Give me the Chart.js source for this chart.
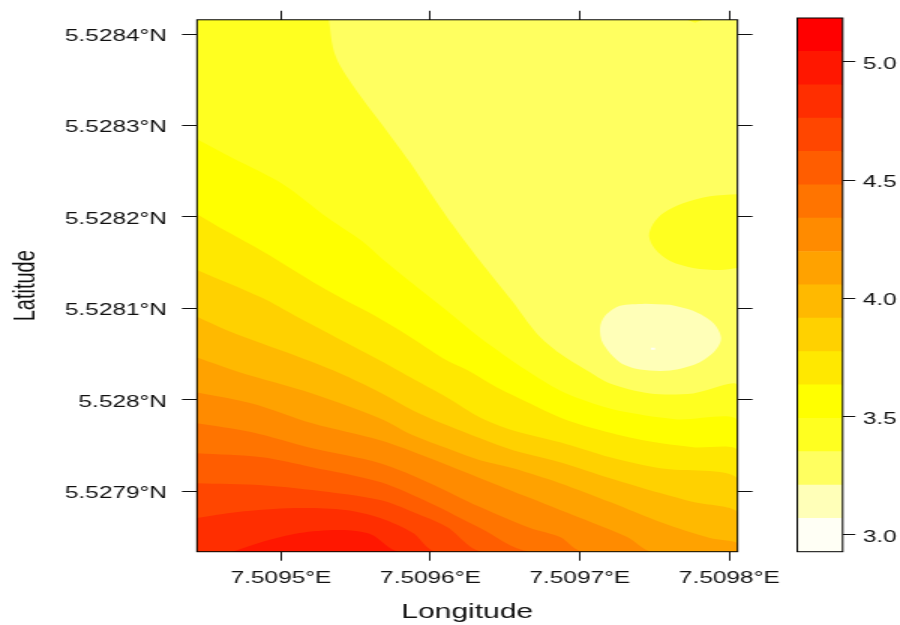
<!DOCTYPE html>
<html>
<head>
<meta charset="utf-8">
<title>Latitude / Longitude</title>
<script src="https://cdn.jsdelivr.net/npm/chart.js@4/dist/chart.umd.js"></script>
<style>
  html, body { margin: 0; background: #fff; overflow: hidden; }
  /* the original figure is stretched sideways, so both canvases are too */
  canvas { position: absolute; top: 0; transform: scaleX(1.5); transform-origin: 0 0; }
  #map { left: 0; }
  #key { left: 780px; }
</style>
</head>
<body>
<canvas id="map" width="600" height="625"></canvas>
<canvas id="key" width="80" height="625"></canvas>
<script>
// plot limits
const lonMin = 7.5094438, lonMax = 7.5098055;
const latMin = 5.5278338, latMax = 5.5284156;

const lonTicks  = [7.5095, 7.5096, 7.5097, 7.5098];
const lonLabels = ['7.5095°E', '7.5096°E', '7.5097°E', '7.5098°E'];
const latTicks  = [5.5279, 5.528, 5.5281, 5.5282, 5.5283, 5.5284];
const latLabels = ['5.5279°N', '5.528°N', '5.5281°N', '5.5282°N', '5.5283°N', '5.5284°N'];

// colour key, bottom to top
const keyTicks  = [3, 3.5, 4, 4.5, 5];
const keyLabels = ['3.0', '3.5', '4.0', '4.5', '5.0'];
const levels = [2.9294, 3.0704, 3.2113, 3.3523, 3.4932, 3.6342, 3.7752, 3.9161, 4.0571, 4.198, 4.339, 4.48, 4.6209, 4.7619, 4.9028, 5.0438, 5.1847];
const bandColors = ['#FFFFF5', '#FFFFB8', '#FFFF60', '#FFFF20', '#FFFF00', '#FFE800', '#FFD100', '#FFB900', '#FFA200', '#FF8B00', '#FF7400', '#FF5D00', '#FF4600', '#FF2E00', '#FF1700', '#FF0000'];

// contour lines, low values first
const c1Lon = [7.5095321, 7.5095348, 7.5095395, 7.5095529, 7.5095696, 7.5095863, 7.5095997, 7.5096145, 7.5096332, 7.5096546, 7.5096713, 7.5096867, 7.5097048, 7.5097202, 7.509747, 7.5097758, 7.5098055];
const c1Lat = [5.5284156, 5.5283851, 5.5283655, 5.5283328, 5.5282968, 5.5282597, 5.528227, 5.5281922, 5.5281518, 5.5281082, 5.5280723, 5.5280505, 5.5280319, 5.5280178, 5.5280069, 5.5280069, 5.5280156];
const c2Lon = [7.5094438, 7.5094679, 7.5095013, 7.5095315, 7.5095542, 7.5095663, 7.5095883, 7.5096111, 7.5096332, 7.5096646, 7.5096867, 7.5097088, 7.5097316, 7.509765, 7.5098055];
const c2Lat = [5.5282848, 5.5282641, 5.5282358, 5.5281987, 5.5281736, 5.5281562, 5.5281268, 5.5280973, 5.5280679, 5.5280319, 5.5280101, 5.527996, 5.5279862, 5.5279785, 5.5279774];
const c3Lon = [7.5094438, 7.5094645, 7.5094873, 7.5095315, 7.5095663, 7.5095883, 7.5096111, 7.5096252, 7.5096446, 7.5096667, 7.5096867, 7.5097088, 7.5097423, 7.5097758, 7.5098055];
const c3Lat = [5.528203, 5.5281834, 5.5281627, 5.5281191, 5.5280886, 5.5280668, 5.5280428, 5.5280319, 5.5280134, 5.527996, 5.5279807, 5.5279687, 5.5279556, 5.527948, 5.5279447];
const c4Lon = [7.5094438, 7.5094873, 7.5095094, 7.5095663, 7.5095843, 7.5096111, 7.5096332, 7.5096553, 7.5096867, 7.5097202, 7.5097537, 7.5098055];
const c4Lat = [5.528142, 5.5281115, 5.5280919, 5.5280428, 5.5280265, 5.5280025, 5.5279807, 5.5279665, 5.5279535, 5.5279371, 5.5279251, 5.5279142];
const c5Lon = [7.5094438, 7.5094645, 7.5094873, 7.5095094, 7.5095382, 7.5095663, 7.5095883, 7.5096111, 7.5096332, 7.5096553, 7.5096867, 7.5097202, 7.5097537, 7.5097758, 7.5098055];
const c5Lat = [5.5280908, 5.5280755, 5.5280614, 5.5280483, 5.5280298, 5.528008, 5.5279883, 5.527972, 5.5279578, 5.5279447, 5.5279317, 5.5279142, 5.5278979, 5.5278881, 5.5278772];
const c6Lon = [7.5094438, 7.5094726, 7.5095208, 7.5095663, 7.5095883, 7.5096111, 7.5096332, 7.5096553, 7.5096867, 7.5097202, 7.5097537, 7.5097871, 7.5098055];
const c6Lat = [5.5280461, 5.5280298, 5.5280069, 5.5279796, 5.5279611, 5.5279469, 5.5279339, 5.5279251, 5.5279088, 5.5278881, 5.5278663, 5.5278488, 5.5278434];
const c7Lon = [7.5094438, 7.5094806, 7.5095208, 7.5095663, 7.5095997, 7.5096332, 7.5096667, 7.5096867, 7.5097088, 7.5097316, 7.5097483];
const c7Lat = [5.528008, 5.527996, 5.5279742, 5.5279556, 5.527936, 5.5279142, 5.5278924, 5.5278794, 5.5278652, 5.5278499, 5.5278338];
const c8Lon = [7.5094438, 7.5094806, 7.5095208, 7.5095663, 7.5095997, 7.5096332, 7.5096667, 7.5096867, 7.5097021];
const c8Lat = [5.5279742, 5.5279644, 5.5279469, 5.5279306, 5.5279088, 5.5278826, 5.5278597, 5.5278499, 5.5278338];
const c9Lon = [7.5094438, 7.5094873, 7.5095208, 7.5095663, 7.5095997, 7.5096332, 7.5096667];
const c9Lat = [5.5279415, 5.5279371, 5.5279262, 5.5279099, 5.527887, 5.5278597, 5.5278338];
const c10Lon = [7.5094438, 7.5094873, 7.5095208, 7.5095663, 7.5095883, 7.5096111, 7.5096352];
const c10Lat = [5.5279088, 5.5279066, 5.5279012, 5.5278903, 5.5278772, 5.5278608, 5.5278338];
const c11Lon = [7.5094438, 7.5094712, 7.5095094, 7.5095428, 7.5095663, 7.5095883, 7.5096044];
const c11Lat = [5.5278706, 5.5278772, 5.5278815, 5.5278794, 5.5278706, 5.5278543, 5.5278338];
const c12Lon = [7.5094679, 7.5094873, 7.5095127, 7.5095395, 7.5095596, 7.5095797];
const c12Lat = [5.5278338, 5.5278445, 5.5278543, 5.5278576, 5.5278532, 5.5278338];

// closed patches on the right side of the map
const rightLon = [7.5098055, 7.5097871, 7.5097691, 7.5097557, 7.509749, 7.5097463, 7.5097503, 7.5097604, 7.5097758, 7.5097938, 7.5098055];
const rightLat = [5.5282248, 5.5282227, 5.528215, 5.5282041, 5.5281922, 5.5281791, 5.5281649, 5.5281518, 5.5281442, 5.528142, 5.5281442];
const topLon = [7.5097717, 7.5097771, 7.5097824];
const topLat = [5.5284156, 5.5284123, 5.5284156];
const paleLon = [7.5097436, 7.5097269, 7.5097169, 7.5097135, 7.5097155, 7.5097269, 7.5097403, 7.5097604, 7.5097784, 7.5097905, 7.5097945, 7.5097891, 7.5097758, 7.5097604];
const paleLat = [5.528105, 5.5281028, 5.5280919, 5.5280788, 5.5280614, 5.5280407, 5.528033, 5.5280319, 5.5280396, 5.5280537, 5.5280679, 5.5280843, 5.5280973, 5.5281039];
const dotLon = [7.5097476, 7.5097503, 7.5097503, 7.5097476];
const dotLat = [5.528057, 5.528057, 5.5280548, 5.5280548];

const TEXT = '#111';
const FONT = 'Liberation Sans, Arial, sans-serif';

const points = (lons, lats) => lons.map((x, i) => ({ x, y: lats[i] }));

// the area under a contour: run on to the bottom corners and back to the left edge
function underContour(lons, lats) {
  return points(lons, lats).concat([
    { x: lonMax, y: latMin },
    { x: lonMin, y: latMin },
    { x: lonMin, y: lats[0] },
  ]);
}

function patch(data, color, tension = 0) {
  return { data, backgroundColor: color, borderWidth: 0, showLine: true, fill: 'shape', pointRadius: 0, tension };
}

// painted back to front, Chart.js draws the last dataset first so order is set by hand
const patches = [
  patch(points([lonMin, lonMax, lonMax, lonMin], [latMax, latMax, latMin, latMin]), bandColors[2]),
  patch(points(topLon, topLat), bandColors[3]),
  patch(points(rightLon, rightLat), bandColors[3], 0.3),
  patch(points(paleLon, paleLat), bandColors[1], 0.3),
  patch(points(dotLon, dotLat), bandColors[0]),
  patch(underContour(c1Lon, c1Lat), bandColors[3], 0.3),
  patch(underContour(c2Lon, c2Lat), bandColors[4], 0.3),
  patch(underContour(c3Lon, c3Lat), bandColors[5], 0.3),
  patch(underContour(c4Lon, c4Lat), bandColors[6], 0.3),
  patch(underContour(c5Lon, c5Lat), bandColors[7], 0.3),
  patch(underContour(c6Lon, c6Lat), bandColors[8], 0.3),
  patch(underContour(c7Lon, c7Lat), bandColors[9], 0.3),
  patch(underContour(c8Lon, c8Lat), bandColors[10], 0.3),
  patch(underContour(c9Lon, c9Lat), bandColors[11], 0.3),
  patch(underContour(c10Lon, c10Lat), bandColors[12], 0.3),
  patch(underContour(c11Lon, c11Lat), bandColors[13], 0.3),
  patch(underContour(c12Lon, c12Lat), bandColors[14], 0.3),
];
patches.forEach((p, i) => { p.order = patches.length - i; });

// box round the plot, lattice style
const frame = {
  id: 'frame',
  afterDatasetsDraw(chart) {
    const { ctx, chartArea: a } = chart;
    ctx.save();
    ctx.strokeStyle = '#000';
    ctx.lineWidth = 1;
    ctx.strokeRect(a.left, a.top, a.right - a.left, a.bottom - a.top);
    ctx.restore();
  },
};

function axisTicks(values, labels, size, showLabels, padding) {
  return {
    display: showLabels,
    autoSkip: false,
    maxRotation: 0,
    minRotation: 0,
    padding,
    color: TEXT,
    font: { family: FONT, size },
    callback: (v, i) => labels[i],
  };
}

function axisGrid(length) {
  return { drawOnChartArea: false, drawTicks: true, tickLength: length, tickColor: '#111', tickWidth: 1 };
}

const setTicks = values => scale => { scale.ticks = values.map(value => ({ value })); };

new Chart(document.getElementById('map'), {
  type: 'scatter',
  data: { datasets: patches },
  plugins: [frame],
  options: {
    animation: false,
    responsive: false,
    devicePixelRatio: 1,
    layout: { autoPadding: false },
    plugins: { legend: { display: false }, tooltip: { enabled: false } },
    scales: {
      x: {
        type: 'linear', position: 'bottom', min: lonMin, max: lonMax,
        afterBuildTicks: setTicks(lonTicks),
        afterFit: s => { s.height = 73.3; },
        ticks: axisTicks(lonTicks, lonLabels, 16.3, true, 8),
        grid: axisGrid(9),
        border: { display: false },
        title: { display: true, text: 'Longitude', color: TEXT, font: { family: FONT, size: 20 }, padding: { top: 0, bottom: 1 } },
      },
      xTop: {
        type: 'linear', position: 'top', min: lonMin, max: lonMax,
        afterBuildTicks: setTicks(lonTicks),
        afterFit: s => { s.height = 18; },
        ticks: axisTicks(lonTicks, lonLabels, 16.3, false, 0),
        grid: axisGrid(9),
        border: { display: false },
      },
      y: {
        type: 'linear', position: 'left', min: latMin, max: latMax,
        afterBuildTicks: setTicks(latTicks),
        afterFit: s => { s.width = 131.33; },
        ticks: { ...axisTicks(latTicks, latLabels, 16.3, true, 10), labelOffset: 2.5 },
        grid: axisGrid(10),
        border: { display: false },
        title: { display: true, text: 'Latitude', color: TEXT, font: { family: FONT, size: 20 }, padding: { top: 5, bottom: 0 } },
      },
      yRight: {
        type: 'linear', position: 'right', min: latMin, max: latMax,
        afterBuildTicks: setTicks(latTicks),
        afterFit: s => { s.width = 108.33; },
        ticks: axisTicks(latTicks, latLabels, 16.3, false, 0),
        grid: axisGrid(10),
        border: { display: false },
      },
    },
  },
});

new Chart(document.getElementById('key'), {
  type: 'bar',
  data: {
    labels: ['key'],
    datasets: bandColors.map((color, i) => ({ data: [[levels[i], levels[i + 1]]], backgroundColor: color, borderWidth: 0 })),
  },
  plugins: [frame],
  options: {
    animation: false,
    responsive: false,
    devicePixelRatio: 1,
    grouped: false,
    barPercentage: 1,
    categoryPercentage: 1,
    layout: { autoPadding: false, padding: { left: 11.53, top: 18, bottom: 73.3, right: 0 } },
    plugins: { legend: { display: false }, tooltip: { enabled: false } },
    scales: {
      x: { display: false },
      y: {
        position: 'right', min: levels[0], max: levels[16],
        afterBuildTicks: setTicks(keyTicks),
        afterFit: s => { s.width = 38.2; },
        ticks: { ...axisTicks(keyTicks, keyLabels, 16.3, true, 5), labelOffset: 2.5 },
        grid: axisGrid(8.4),
        border: { display: false },
      },
    },
  },
});
</script>
</body>
</html>
